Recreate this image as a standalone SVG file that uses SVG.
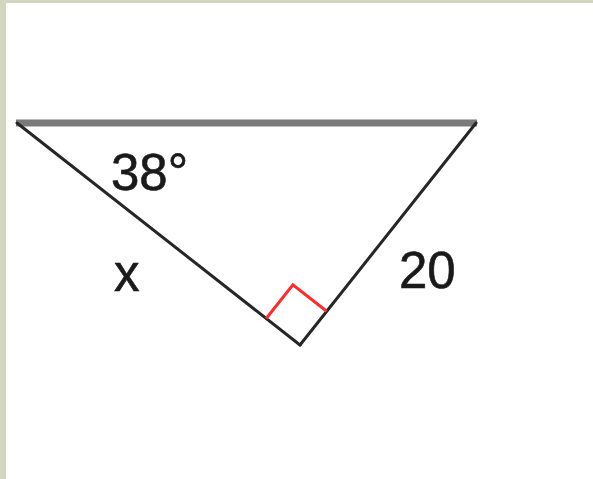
<svg xmlns="http://www.w3.org/2000/svg" width="593" height="479" viewBox="0 0 593 479">
<style>
.leg{stroke:#262626;stroke-width:3;fill:none;stroke-linecap:round}
.lbl{font-family:"Liberation Sans",Arial,sans-serif;font-size:51px;fill:#1a1a1a;stroke:#1a1a1a;stroke-width:0.6}
</style>
<rect x="0" y="0" width="593" height="479" fill="#ffffff"/>
<rect x="0" y="0" width="593" height="3" fill="#d2d6c0"/>
<rect x="0" y="0" width="6" height="479" fill="#d2d6c0"/>
<g id="triangle">
<line x1="16" y1="123" x2="477" y2="123" stroke="#7a7a7a" stroke-width="7"/>
<line class="leg" x1="17" y1="123" x2="300" y2="345"/>
<line class="leg" x1="300" y1="345" x2="476" y2="123"/>
<polyline points="266.2,318.5 292.9,284.8 326.7,311.3" fill="none" stroke="#ff2a2a" stroke-width="3"/>
</g>
<g id="labels">
<text class="lbl" x="111" y="190">38°</text>
<text class="lbl" x="114" y="291">x</text>
<text class="lbl" x="399" y="288">20</text>
</g>
</svg>
